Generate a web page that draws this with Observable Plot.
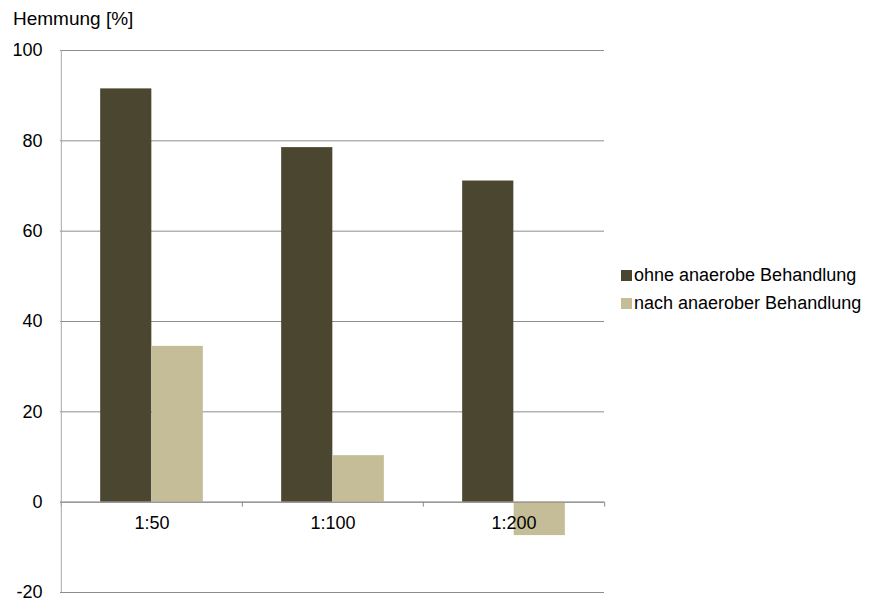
<!DOCTYPE html>
<html>
<head>
<meta charset="utf-8">
<script src="https://cdn.jsdelivr.net/npm/d3@7"></script>
<script src="https://cdn.jsdelivr.net/npm/@observablehq/plot@0.6"></script>
<style>
  html, body { margin: 0; padding: 0; background: #fff; }
  #wrap { position: relative; width: 872px; height: 601px; font-family: "Liberation Sans", Arial, sans-serif; color: #000; }
  #title { position: absolute; left: 13px; top: 8px; font-size: 19px; }
  #legend { position: absolute; left: 621px; top: 261px; font-size: 18px; line-height: 28px; }
  .sw { display: inline-block; width: 11px; height: 11px; margin-right: 2px; vertical-align: 0px; }
</style>
</head>
<body>
<div id="wrap">
  <div id="chart"></div>
  <div id="title">Hemmung [%]</div>
  <div id="legend"></div>
</div>
<script>
const categories = ["1:50", "1:100", "1:200"];
const seriesNames = ["ohne anaerobe Behandlung", "nach anaerober Behandlung"];
const ohneValues = [91.5, 78.5, 71.1];
const nachValues = [34.5, 10.3, -7.4];
const yTicks = [-20, 0, 20, 40, 60, 80, 100];
const colors = ["#4B4630", "#C4BD97"];

const data = [];
categories.forEach((c, i) => {
  data.push({cat: c, series: seriesNames[0], value: ohneValues[i]});
  data.push({cat: c, series: seriesNames[1], value: nachValues[i]});
});

const W = 872, H = 601;
const mL = 60, mR = 268, mT = 50, mB = 9;
const band = (W - mL - mR) / categories.length;
const groupPad = 0.216 * band;
const barW = (band - 2 * groupPad) / 2;
const lastCat = categories[categories.length - 1];

const chart = Plot.plot({
  width: W,
  height: H,
  marginLeft: mL,
  marginRight: mR,
  marginTop: mT,
  marginBottom: mB,
  style: {fontFamily: "'Liberation Sans', Arial, sans-serif", fontSize: "18px", color: "#000", background: "#fff"},
  x: {domain: categories, padding: 0, axis: null},
  y: {domain: [-20, 100], ticks: yTicks, tickSize: 0, tickPadding: 18, label: null, tickFormat: d => String(d)},
  color: {domain: seriesNames, range: colors},
  marks: [
    Plot.ruleY(yTicks, {stroke: "#8c8c8c", strokeWidth: 1}),
    Plot.barY(data.filter(d => d.series === seriesNames[0]), {
      x: "cat", y: "value", fill: "series",
      insetLeft: groupPad, insetRight: band - groupPad - barW
    }),
    Plot.barY(data.filter(d => d.series === seriesNames[1]), {
      x: "cat", y: "value", fill: "series",
      insetLeft: groupPad + barW, insetRight: groupPad
    }),
    Plot.ruleY([0], {stroke: "#8c8c8c", strokeWidth: 1}),
    Plot.ruleX(categories, {x: d => d, dx: -band / 2, y1: 0, y2: 0, insetBottom: -5, stroke: "#8c8c8c"}),
    Plot.ruleX([lastCat], {x: d => d, dx: band / 2, y1: 0, y2: 0, insetBottom: -5, stroke: "#8c8c8c"}),
    Plot.ruleX([categories[0]], {x: d => d, dx: -band / 2, y1: -20, y2: 100, stroke: "#a8a8a8"}),
    Plot.text(categories, {x: d => d, y: 0, dy: 21, text: d => d, fontSize: 18})
  ]
});
document.getElementById("chart").appendChild(chart);

const legend = document.getElementById("legend");
seriesNames.forEach((s, i) => {
  const row = document.createElement("div");
  row.innerHTML = `<span class="sw" style="background:${colors[i]}"></span>${s}`;
  legend.appendChild(row);
});
</script>
</body>
</html>
